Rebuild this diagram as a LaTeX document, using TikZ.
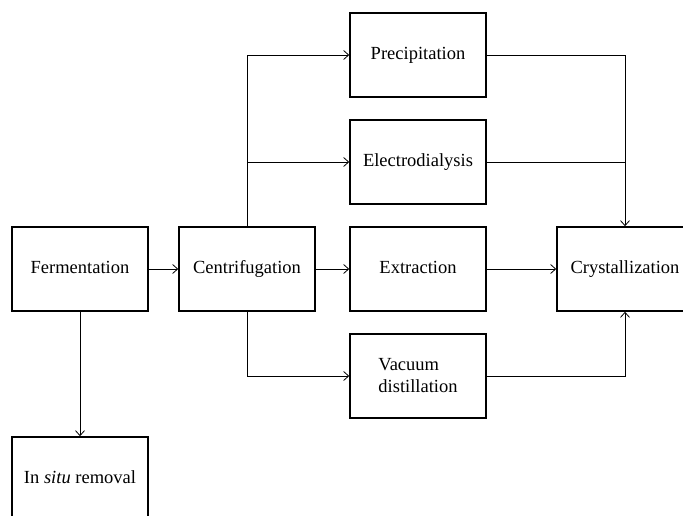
\documentclass[tikz,border=0pt]{standalone}
\usepackage{fontspec}
\setmainfont{Liberation Serif}
\usetikzlibrary{
    positioning,
    arrows.meta,
    calc
}

\begin{document}
\begin{tikzpicture}[
                    x=1bp, y=-1bp,
                    font=\fontsize{18.5bp}{22bp}\selectfont,
                    every node/.style={inner sep=1pt},
                    stage/.style={draw, line width=1.6bp, minimum width=136bp,
                                  minimum height=84bp, align=left,
                                  text height=13bp, text depth=4bp},
                    flow/.style={line width=0.8bp, -{Straight Barb[length=5bp,width=9bp]}},
                    link/.style={line width=0.8bp},
                ]
                  \useasboundingbox (0,0) rectangle (683,516);
                  \def\colA{80}
                  \def\colB{247}
                  \def\colC{418}
                  \def\colD{625}

                  % ---- Upstream ----
                  \node[stage] (ferm)   at (\colA,269) {Fermentation};
                  \node[stage] (insitu) at (\colA,479) {In \textit{situ} removal};
                  \node[stage] (centr)  at (\colB,269) {Centrifugation};

                  % ---- Separation routes ----
                  \node[stage] (precip) at (\colC,55)  {Precipitation};
                  \node[stage] (elec)   at (\colC,162) {Electrodialysis};
                  \node[stage] (extr)   at (\colC,269) {Extraction};
                  \node[stage, text height=, text depth=] (vac) at (\colC,376) {Vacuum\\distillation};

                  % ---- Product ----
                  \node[stage] (cryst)  at (\colD,269) {Crystallization};

                  % Junctions
                  \coordinate (split) at (centr.north |- elec);
                  \coordinate (merge) at (cryst.north |- elec);

                  % Connectors
                  \draw[flow] (ferm) -- (centr);
                  \draw[flow] (ferm) -- (insitu);
                  \draw[flow] (centr.north) |- (precip);
                  \draw[flow] (split) -- (elec);
                  \draw[flow] (centr) -- (extr);
                  \draw[flow] (centr.south) |- (vac);
                  \draw[flow] (precip) -| (cryst);
                  \draw[link] (elec) -- (merge);
                  \draw[flow] (extr) -- (cryst);
                  \draw[flow] (vac) -| (cryst);
                \end{tikzpicture}
\end{document}
